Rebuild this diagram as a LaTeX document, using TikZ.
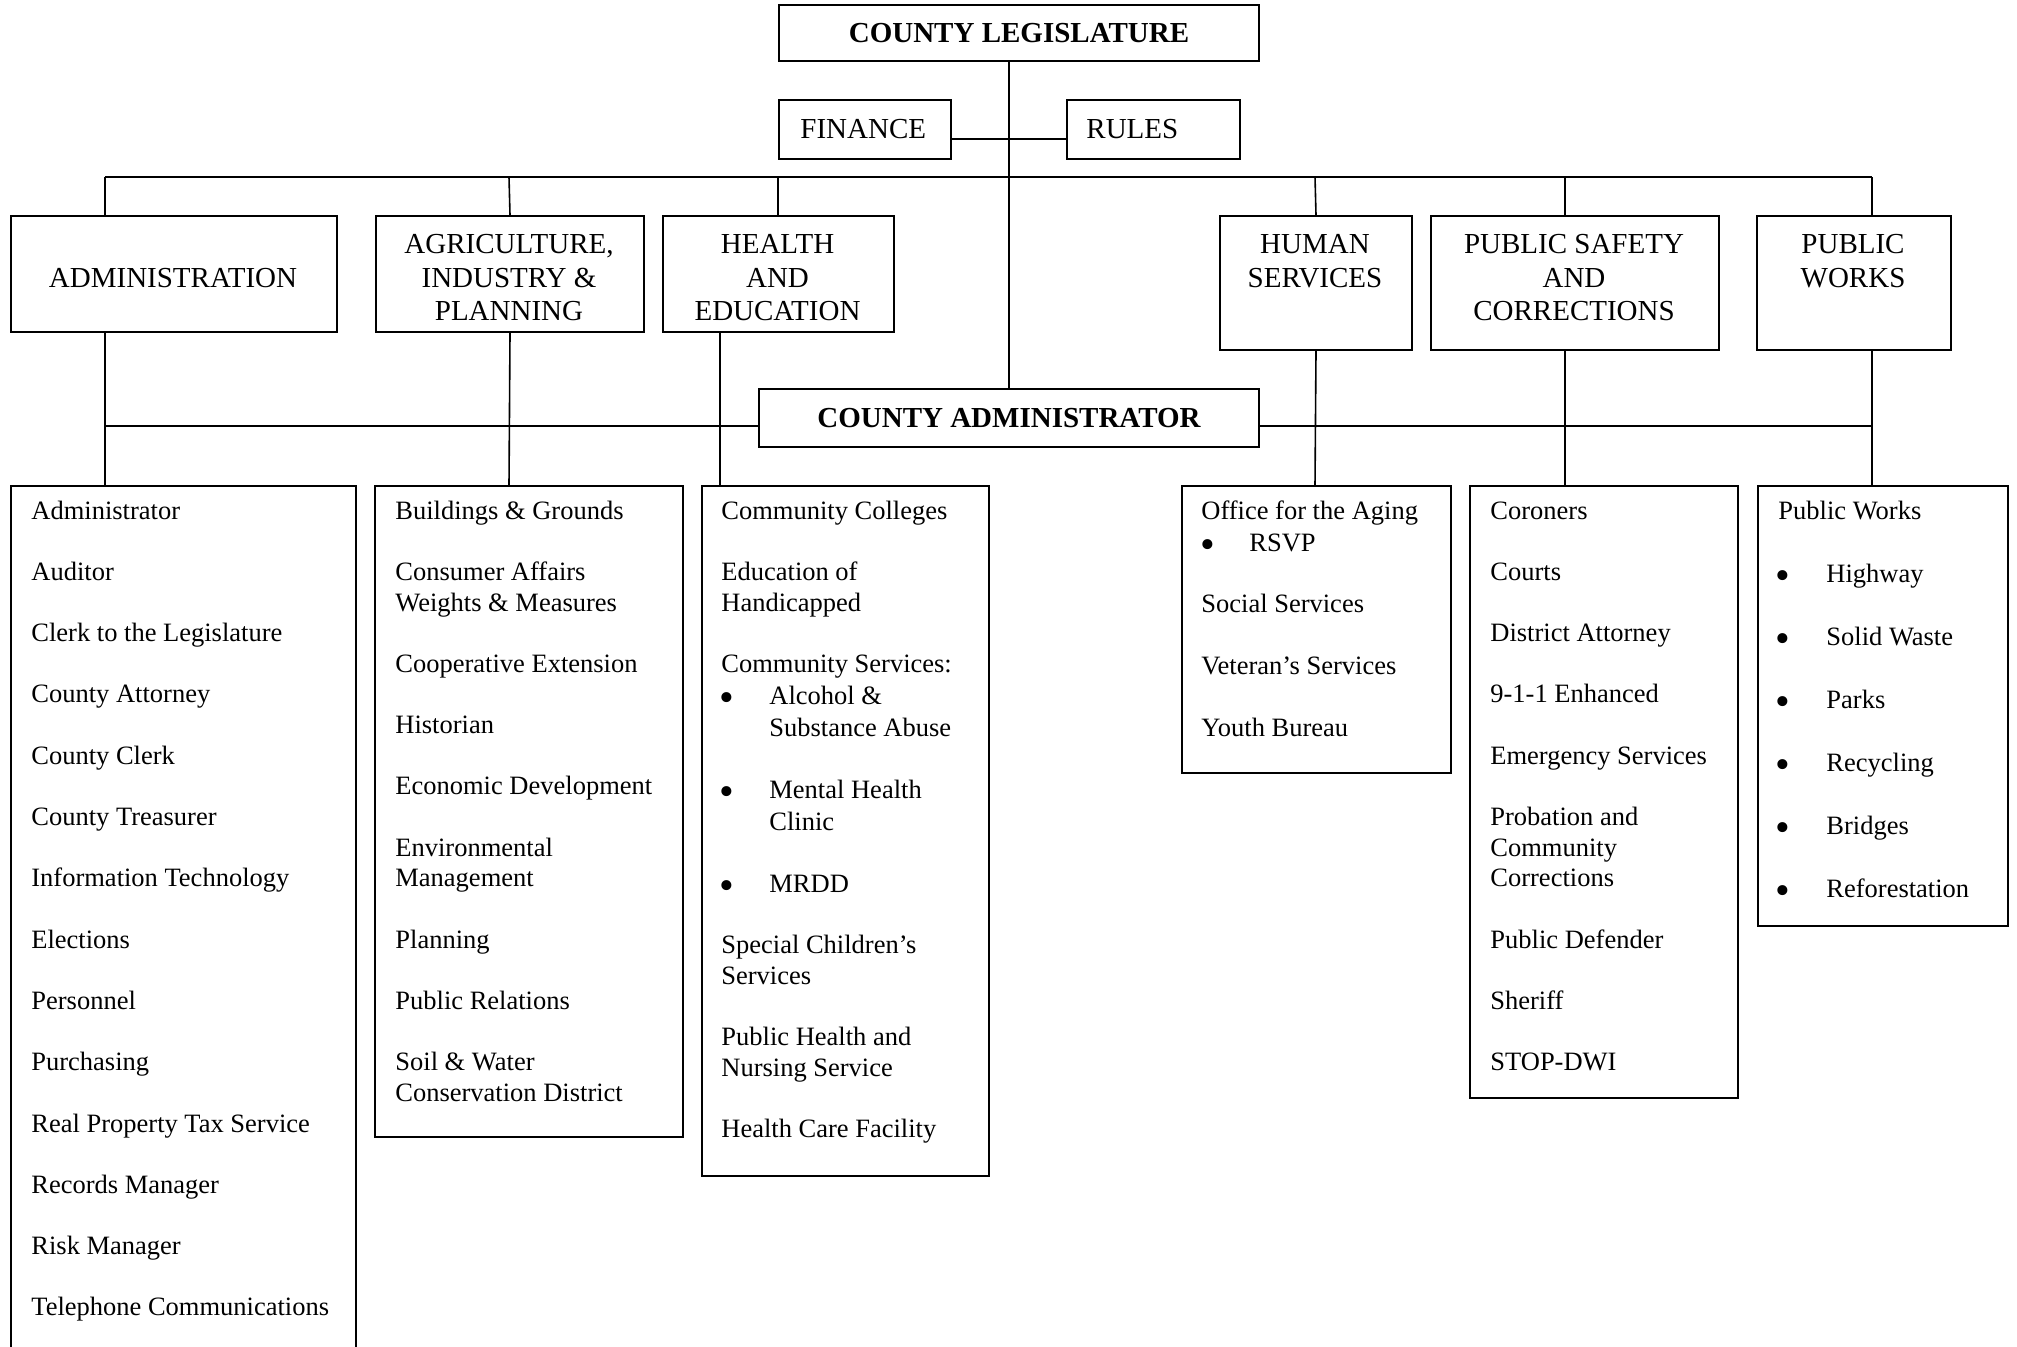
\documentclass[tikz,border=0pt]{standalone}
\usepackage{fontspec}
\setmainfont{Liberation Serif}
\tikzset{
  box/.style={draw, line width=1pt, inner sep=0pt, anchor=north west},
  hd/.style={font=\fontsize{14.5}{16.7}\selectfont, inner sep=0pt},
  hdb/.style={font=\fontsize{14.5}{16.7}\selectfont\bfseries, inner sep=0pt},
  li/.style={font=\fontsize{13.25}{15.3}\selectfont, inner sep=0pt, anchor=base west},
  bul/.style={font=\fontsize{21}{21}\selectfont, inner sep=0pt, anchor=base, text height=1pt, text depth=0pt},
  link/.style={line width=0.8pt},
  bus/.style={line width=1.1pt},
}
% box: name, x1, y1, x2, y2, options, text
\newcommand\Bx[7][]{\node[box,#1, minimum width={(#5-#3)*0.5pt}, minimum height={(#6-#4)*0.5pt}] (#2) at (#3,#4) {#7};}
\newcommand\Li[4]{\node[li] (#1) at (#2,#3) {#4};}
\newcommand\Bu[5]{\node[bul] (#1b) at (#2,#4+7) {\textbullet}; \node[li] (#1) at (#3,#4) {#5};}
\newcommand\Hl[4]{\node[hd, anchor=base] (#1) at (#2,#3) {#4};}
\begin{document}
\begin{tikzpicture}[x=0.5pt,y=-0.5pt]
\useasboundingbox (0,0) rectangle (2017,1346);
\fill[white] (0,0) rectangle (2017,1346);

% top level boxes
\Bx[hdb]{leg}{778}{4}{1258}{60}{COUNTY LEGISLATURE}
\Bx{fin}{778}{99}{950}{158}{}
\Bx{rul}{1066}{99}{1239}{158}{}
\node[hd, anchor=base west] (finT) at (800,138) {FINANCE};
\node[hd, anchor=base west] (rulT) at (1086,138) {RULES};
\Bx[hdb]{cadm}{758}{388}{1258}{446}{COUNTY ADMINISTRATOR}

% committee boxes
\Bx{adm}{10}{215}{336}{331}{}
\Bx{agr}{375}{215}{643}{331}{}
\Bx{hed}{662}{215}{893}{331}{}
\Bx{hum}{1219}{215}{1411}{349}{}
\Bx{psc}{1430}{215}{1718}{349}{}
\Bx{pwk}{1756}{215}{1950}{349}{}

\Hl{admT}{173}{287}{ADMINISTRATION}
\Hl{agrT1}{509}{253}{AGRICULTURE,}
\Hl{agrT2}{509}{287}{INDUSTRY \&}
\Hl{agrT3}{509}{320}{PLANNING}
\Hl{hedT1}{777.5}{253}{HEALTH}
\Hl{hedT2}{777.5}{287}{AND}
\Hl{hedT3}{777.5}{320}{EDUCATION}
\Hl{humT1}{1315}{253}{HUMAN}
\Hl{humT2}{1315}{287}{SERVICES}
\Hl{pscT1}{1574}{253}{PUBLIC SAFETY}
\Hl{pscT2}{1574}{287}{AND}
\Hl{pscT3}{1574}{320}{CORRECTIONS}
\Hl{pwkT1}{1853}{253}{PUBLIC}
\Hl{pwkT2}{1853}{287}{WORKS}

% department list boxes
\Bx{ladm}{10}{485}{355}{1420}{}
\Bx{lagr}{374}{485}{682}{1136}{}
\Bx{lhed}{701}{485}{988}{1175}{}
\Bx{lhum}{1181}{485}{1450}{772}{}
\Bx{lpsc}{1469}{485}{1737}{1097}{}
\Bx{lpwk}{1757}{485}{2007}{925}{}

% Administration list
\Li{a1}{31}{519}{Administrator}
\Li{a2}{31}{580.3}{Auditor}
\Li{a3}{31}{641.6}{Clerk to the Legislature}
\Li{a4}{31}{702.9}{County Attorney}
\Li{a5}{31}{764.2}{County Clerk}
\Li{a6}{31}{825.5}{County Treasurer}
\Li{a7}{31}{886.8}{Information Technology}
\Li{a8}{31}{948.1}{Elections}
\Li{a9}{31}{1009.4}{Personnel}
\Li{a10}{31}{1070.7}{Purchasing}
\Li{a11}{31}{1132}{Real Property Tax Service}
\Li{a12}{31}{1193.3}{Records Manager}
\Li{a13}{31}{1254.6}{Risk Manager}
\Li{a14}{31}{1315.9}{Telephone Communications}

% Agriculture list
\Li{g1}{395}{519}{Buildings \& Grounds}
\Li{g2}{395}{580.3}{Consumer Affairs}
\Li{g3}{395}{611}{Weights \& Measures}
\Li{g4}{395}{672.2}{Cooperative Extension}
\Li{g5}{395}{733.5}{Historian}
\Li{g6}{395}{794.8}{Economic Development}
\Li{g7}{395}{856.1}{Environmental}
\Li{g8}{395}{886.8}{Management}
\Li{g9}{395}{948.1}{Planning}
\Li{g10}{395}{1009.4}{Public Relations}
\Li{g11}{395}{1070.7}{Soil \& Water}
\Li{g12}{395}{1101.4}{Conservation District}

% Health list
\Li{h1}{721}{519}{Community Colleges}
\Li{h2}{721}{580.3}{Education of}
\Li{h3}{721}{611}{Handicapped}
\Li{h4}{721}{672.2}{Community Services:}
\Bu{h5}{727}{769}{704}{Alcohol \&}
\Li{h6}{769}{736}{Substance Abuse}
\Bu{h7}{727}{769}{798}{Mental Health}
\Li{h8}{769}{830}{Clinic}
\Bu{h9}{727}{769}{892}{MRDD}
\Li{h10}{721}{953.5}{Special Children’s}
\Li{h11}{721}{984}{Services}
\Li{h12}{721}{1045}{Public Health and}
\Li{h13}{721}{1076}{Nursing Service}
\Li{h14}{721}{1137.5}{Health Care Facility}

% Human services list
\Li{u1}{1201}{519}{Office for the Aging}
\Bu{u2}{1208}{1249}{551}{RSVP}
\Li{u3}{1201}{612.6}{Social Services}
\Li{u4}{1201}{674}{Veteran’s Services}
\Li{u5}{1201}{736}{Youth Bureau}

% Public safety list
\Li{s1}{1490}{519}{Coroners}
\Li{s2}{1490}{580.3}{Courts}
\Li{s3}{1490}{641.6}{District Attorney}
\Li{s4}{1490}{702.9}{9-1-1 Enhanced}
\Li{s5}{1490}{764.2}{Emergency Services}
\Li{s6}{1490}{825.5}{Probation and}
\Li{s7}{1490}{856.1}{Community}
\Li{s8}{1490}{886.8}{Corrections}
\Li{s9}{1490}{948.1}{Public Defender}
\Li{s10}{1490}{1009.4}{Sheriff}
\Li{s11}{1490}{1070.7}{STOP-DWI}

% Public works list
\Li{w1}{1778}{519}{Public Works}
\Bu{w2}{1783}{1826}{582}{Highway}
\Bu{w3}{1783}{1826}{645}{Solid Waste}
\Bu{w4}{1783}{1826}{708}{Parks}
\Bu{w5}{1783}{1826}{771}{Recycling}
\Bu{w6}{1783}{1826}{834}{Bridges}
\Bu{w7}{1783}{1826}{897}{Reforestation}

% connector coordinates
\coordinate (sA) at (105,177);
\coordinate (sG) at (509,177);
\coordinate (sH) at (778,177);
\coordinate (sU) at (1315,177);
\coordinate (sS) at (1565,177);
\coordinate (sW) at (1872,177);
\coordinate (tA) at (105,426);
\coordinate (tG) at (509,426);
\coordinate (tH) at (720,426);
\coordinate (tU) at (1315,426);
\coordinate (tS) at (1565,426);
\coordinate (tW) at (1872,426);

% main spine
\draw[link] (cadm.north |- leg.south) -- (cadm.north);
\draw[link] ([yshift=-4.75pt]fin.east) -- ([yshift=-4.75pt]rul.west);

% top bus and drops
\draw[bus] (sA) -- (sW);
\draw[link] (sA) -- (sA |- adm.north);
\draw[link] (sG) -- (agr.north);
\draw[link] (sH) -- (sH |- hed.north);
\draw[link] (sU) -- (hum.north);
\draw[link] (sS) -- (sS |- psc.north);
\draw[link] (sW) -- (sW |- pwk.north);

% lower bus
\draw[bus] (tA) -- (tA -| cadm.west);
\draw[bus] (tW -| cadm.east) -- (tW);

% lower stems
\draw[link] (tA |- adm.south) -- (tA |- ladm.north);
\draw[link] (agr.south) -- (tG |- lagr.north);
\draw[link] (tH |- hed.south) -- (tH |- lhed.north);
\draw[link] (hum.south) -- (tU |- lhum.north);
\draw[link] (tS |- psc.south) -- (tS |- lpsc.north);
\draw[link] (tW |- pwk.south) -- (tW |- lpwk.north);
\end{tikzpicture}
\end{document}
